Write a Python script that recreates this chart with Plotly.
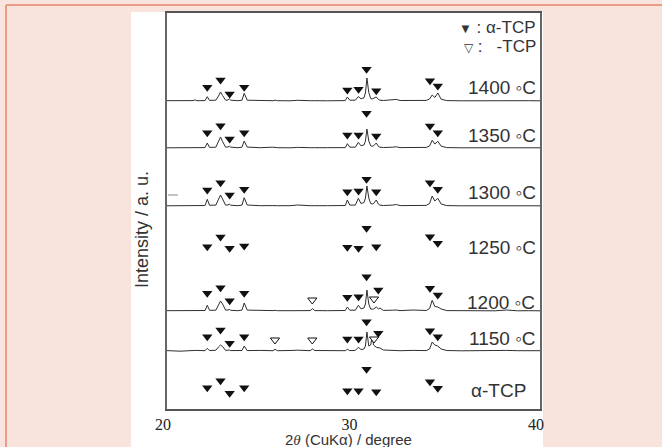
import plotly.graph_objects as go

# ---- data ----
two_theta = [20.00, 20.70, 21.40, 21.50, 21.60, 22.04, 22.16, 22.28, 22.62, 22.76,
             22.87, 22.98, 23.14, 23.27, 23.34, 23.42, 23.80, 24.02, 24.14, 24.30,
             25.00, 25.68, 25.80, 25.92, 26.60, 27.00, 27.68, 27.80, 27.92, 28.60,
             29.20, 29.56, 29.67, 29.80, 30.10, 30.26, 30.40, 30.56, 30.64, 30.72,
             30.82, 30.92, 31.00, 31.08, 31.22, 31.34, 31.42, 31.60, 32.10, 32.30,
             32.50, 33.20, 33.90, 34.08, 34.22, 34.36, 34.52, 34.70, 35.00, 35.80,
             36.80, 37.60, 38.20, 38.80, 39.40, 40.00]

int_1400 = [0.3, 0.0, 0.4, 1.2, 0.3, 0.4, 4.3, 0.6, 0.8, 5.0,
            9.0, 5.5, 0.8, 1.0, 2.2, 0.8, 0.3, 0.8, 7.7, 0.8,
            0.3, 0.3, 0.8, 0.3, 0.2, 0.7, 0.3, 0.6, 0.3, 0.2,
            0.6, 0.4, 4.0, 0.8, 0.8, 4.5, 2.2, 3.2, 8.0, 23.0,
            8.5, 2.5, 2.0, 2.5, 4.0, 1.5, 0.8, 0.5, 0.9, 1.6,
            0.5, 0.3, 0.6, 2.0, 6.0, 3.5, 8.0, 1.8, 0.4, 0.2,
            0.4, 0.2, 0.7, 0.2, 0.3, 0.2]
int_1350 = [0.2, 0.3, 0.1, 0.8, 0.2, 0.4, 5.0, 0.6, 0.8, 6.0,
            11.0, 6.5, 0.8, 1.0, 1.8, 0.8, 0.3, 0.8, 7.0, 0.9,
            0.3, 0.8, 0.4, 0.3, 0.2, 0.6, 0.3, 0.5, 0.3, 0.3,
            0.5, 0.4, 4.3, 0.8, 0.8, 5.7, 2.2, 3.0, 7.0, 19.0,
            7.0, 2.2, 1.8, 2.2, 5.0, 1.5, 0.8, 0.5, 0.8, 1.2,
            0.4, 0.3, 0.6, 2.0, 7.7, 4.0, 6.7, 1.8, 0.4, 0.2,
            0.3, 0.2, 0.6, 0.2, 0.3, 0.2]
int_1300 = [0.2, 0.2, 0.3, 0.6, 0.2, 0.5, 6.7, 0.7, 0.9, 6.5,
            11.0, 7.0, 0.9, 1.0, 1.8, 0.8, 0.3, 0.9, 8.3, 1.0,
            0.3, 0.4, 0.6, 0.3, 0.3, 1.0, 0.3, 0.5, 0.3, 0.3,
            0.5, 0.5, 6.0, 0.9, 0.9, 7.7, 2.5, 3.5, 8.0, 20.0,
            8.0, 2.5, 2.0, 2.5, 6.0, 1.8, 0.8, 0.5, 0.9, 1.5,
            0.4, 0.3, 0.6, 2.5, 10.0, 5.0, 7.7, 2.0, 0.4, 0.2,
            0.3, 0.2, 0.5, 0.2, 0.3, 0.2]
int_1200 = [0.3, 0.2, 0.4, 0.7, 0.2, 0.5, 5.7, 0.7, 0.8, 6.0,
            10.0, 7.0, 0.9, 1.0, 1.5, 0.7, 0.3, 0.9, 8.0, 0.9,
            0.3, 0.4, 0.6, 0.3, 0.3, 0.5, 0.4, 2.3, 0.4, 0.3,
            0.4, 0.5, 4.0, 0.8, 0.8, 5.7, 2.2, 3.0, 7.0, 21.0,
            7.0, 2.0, 1.8, 2.0, 4.0, 2.0, 3.0, 0.6, 0.8, 1.0,
            0.4, 1.0, 0.5, 2.5, 10.7, 4.5, 4.0, 2.0, 0.4, 0.3,
            0.3, 0.2, 1.0, 0.2, 0.3, 0.2]
int_1150 = [0.4, -0.2, 0.5, 0.2, 0.6, 0.3, 2.7, 0.4, 0.8, 4.0,
            6.0, 4.5, 0.6, 0.8, 1.0, 0.4, 0.6, 0.5, 5.0, 0.4,
            0.6, 0.3, 1.7, 0.3, 0.5, 0.8, 0.3, 2.0, 0.5, 0.3,
            0.6, 0.3, 1.7, 0.4, 0.6, 3.7, 1.5, 2.0, 5.0, 19.0,
            5.0, 6.0, 14.0, 6.0, 3.7, 3.5, 3.0, 1.0, 0.6, 0.9,
            0.3, 0.6, 0.4, 2.0, 9.0, 6.0, 5.0, 2.0, 0.5, 0.2,
            0.5, 0.3, 0.6, 0.3, 0.5, 0.3]

pattern_names = ["1400", "1350", "1300", "1200", "1150"]
pattern_int = [int_1400, int_1350, int_1300, int_1200, int_1150]
pattern_offset = [308, 261, 203, 98, 58]

# alpha-TCP reflection markers
alpha_x = [22.16, 22.87, 23.36, 24.14, 29.67, 30.27, 30.70, 31.22, 34.10, 34.52]
alpha_x_low = [22.16, 22.87, 23.36, 24.14, 29.67, 30.27, 30.70, 31.33, 34.10, 34.52]
alpha_rows = ["1400", "1350", "1300", "1250", "1200", "1150", "ref"]
alpha_y = [
    [321.7, 329.0, 315.0, 321.7, 319.0, 319.7, 339.7, 318.3, 328.3, 323.0],
    [276.3, 283.3, 270.0, 276.3, 274.0, 274.0, 295.7, 273.0, 283.0, 276.3],
    [219.0, 226.3, 214.0, 219.7, 217.3, 218.0, 229.7, 217.3, 226.3, 219.7],
    [162.3, 172.0, 160.7, 163.0, 161.7, 160.7, 180.7, 162.3, 172.3, 165.7],
    [115.7, 121.3, 108.3, 115.7, 111.7, 112.3, 132.3, 119.0, 120.7, 114.0],
    [72.3, 79.0, 65.7, 72.3, 70.0, 70.0, 87.3, 75.7, 78.3, 72.3],
    [21.3, 28.3, 15.7, 21.3, 18.3, 18.3, 39.7, 17.3, 27.3, 20.7],
]
# beta-TCP markers
beta_x = [27.79, 31.10, 25.79, 27.79, 31.10]
beta_y = [109, 110, 69, 69, 70]

row_labels = ["1400 \u25e6C", "1350 \u25e6C", "1300 \u25e6C", "1250 \u25e6C",
              "1200 \u25e6C", "1150 \u25e6C", "\u03b1-TCP"]
row_label_y = [322, 274, 217, 162, 107, 71, 19]
row_label_x = [39.9, 39.9, 39.9, 39.9, 39.85, 39.9, 39.35]

# ---- figure ----
fig = go.Figure()
LINE = "#2e2e2e"
for name, ints, off in zip(pattern_names, pattern_int, pattern_offset):
    fig.add_trace(go.Scatter(x=two_theta, y=[off + v for v in ints], mode="lines",
                             line=dict(color=LINE, width=1), name=name, hoverinfo="skip"))

for row, ys in zip(alpha_rows, alpha_y):
    xs = alpha_x_low if row in ("1200", "1150") else alpha_x
    fig.add_trace(go.Scatter(x=xs, y=ys, mode="markers",
                             marker=dict(symbol="triangle-down", size=9, color="#111111",
                                         line=dict(width=0)), hoverinfo="skip"))

fig.add_trace(go.Scatter(x=beta_x, y=beta_y, mode="markers",
                         marker=dict(symbol="triangle-down", size=8, color="white",
                                     line=dict(color="#111111", width=1)), hoverinfo="skip"))

L, R, T, B = 167, 122, 13, 38
W, H = 662, 447
PW, PH = W - L - R, H - T - B


def px(xp):
    return (xp - L) / PW


def py(yp):
    return (H - B - yp) / PH


shapes = [
    dict(type="rect", xref="paper", yref="paper", x0=px(131), x1=px(543), y0=py(460), y1=py(12),
         fillcolor="white", line=dict(width=0), layer="below"),
    dict(type="line", xref="paper", yref="paper", x0=px(6), x1=px(662), y0=py(5), y1=py(5),
         line=dict(color="#e99c84", width=2)),
    dict(type="line", xref="paper", yref="paper", x0=px(6), x1=px(6), y0=py(5), y1=py(460),
         line=dict(color="#e99c84", width=2)),
    dict(type="line", xref="paper", yref="paper", x0=px(168), x1=px(178), y0=py(195), y1=py(195),
         line=dict(color="#888888", width=1)),
]

TXT = "#333333"
annotations = []
for lab, ly, lx in zip(row_labels, row_label_y, row_label_x):
    annotations.append(dict(x=lx, y=ly, xref="x", yref="y", text=lab, showarrow=False,
                            xanchor="right", yanchor="middle",
                            font=dict(family="Liberation Sans", size=19, color=TXT)))

annotations += [
    dict(x=px(538), y=py(28), xref="paper", yref="paper", showarrow=False,
         xanchor="right", yanchor="middle",
         text="<span style='font-size:13px'>\u25bc</span> : \u03b1-TCP",
         font=dict(family="Liberation Sans", size=17, color=TXT)),
    dict(x=px(538), y=py(46), xref="paper", yref="paper", showarrow=False,
         xanchor="right", yanchor="middle",
         text="<span style='font-size:12px'>\u25bd</span> :\u00a0\u00a0\u00a0-TCP",
         font=dict(family="Liberation Sans", size=17, color=TXT)),
    dict(x=px(348), y=py(439.5), xref="paper", yref="paper", showarrow=False,
         xanchor="center", yanchor="middle",
         text="2<span style='font-family:Liberation Serif'><i>\u03b8</i></span> (CuK\u03b1) / degree",
         font=dict(family="Liberation Sans", size=15, color=TXT)),
    dict(x=px(142), y=py(230), xref="paper", yref="paper", showarrow=False,
         xanchor="center", yanchor="middle", textangle=-90,
         text="Intensity / a. u.",
         font=dict(family="Liberation Sans", size=18, color=TXT)),
]

fig.update_layout(
    width=W, height=H,
    margin=dict(l=L, r=R, t=T, b=B, pad=0),
    paper_bgcolor="#f8e4dc", plot_bgcolor="white",
    showlegend=False,
    shapes=shapes, annotations=annotations,
    xaxis=dict(range=[20, 40], tickvals=[20, 30, 40], ticktext=["20", "30", "40"],
               showline=True, mirror=True, linecolor="#555555", linewidth=1.5,
               showgrid=False, zeroline=False, ticks="", ticklabelshift=-4,
               tickfont=dict(family="Liberation Serif", size=16, color="#222222")),
    yaxis=dict(range=[0, PH], showticklabels=False, showline=True, mirror=True,
               linecolor="#666666", linewidth=1.5, showgrid=False, zeroline=False, ticks=""),
)

fig.write_html("out.html", config={"displayModeBar": False},
               post_script="document.body.style.margin='0';document.body.style.overflow='hidden';")
